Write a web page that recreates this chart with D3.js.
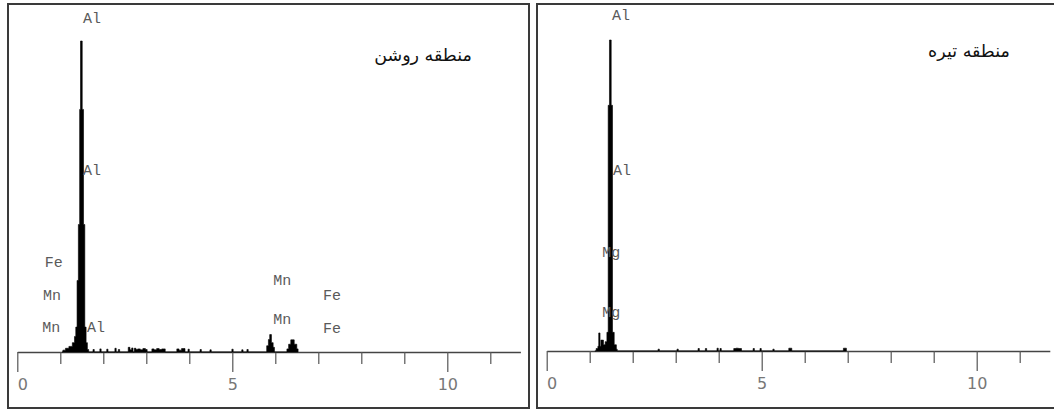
<!DOCTYPE html>
<html>
<head>
<meta charset="utf-8">
<script src="https://cdn.jsdelivr.net/npm/d3@7"></script>
<style>
    body { margin: 0; background: #fff; }
    svg { display: block; }
</style>
</head>
<body>
<svg id="chart" width="1054" height="410"></svg>
<script>
// 刻度
const tickValues = [0, 1, 2, 3, 4, 5, 6, 7, 8, 9, 10, 11];
const tickLabels = ["0", "5", "10"];

// 左图：منطقه روشن (能量 keV / 计数)
const brightEnergy = [
    1.04, 1.06, 1.12, 1.20, 1.28, 1.33, 1.36, 1.39, 1.42, 1.45, 1.47, 1.51, 1.54, 1.57, 1.60, 1.63, 1.66,
    1.76, 1.79, 1.92, 1.95, 2.08, 2.11, 2.27, 2.30, 2.35, 2.38,
    2.58, 2.62, 2.66, 2.69, 2.72, 2.76, 2.80, 2.86, 2.92, 2.98, 3.02,
    3.13, 3.18, 3.24, 3.30, 3.36, 3.44,
    3.71, 3.76, 3.82, 3.90, 3.97, 4.00, 4.25, 4.28, 4.48, 4.51,
    4.99, 5.02, 5.22, 5.25, 5.34, 5.37,
    5.78, 5.80, 5.84, 5.87, 5.91, 5.95, 5.98,
    6.25, 6.27, 6.31, 6.36, 6.44, 6.50, 6.53
];
const brightCounts = [
    0, 0.6, 1.2, 1.8, 3, 5, 8, 23, 41, 78, 100, 78, 41, 8, 3, 0.8, 0,
    0.8, 0, 1, 0, 0.9, 0, 1.2, 0, 0.8, 0,
    1.5, 0.7, 1.3, 0, 1.2, 0.8, 1.0, 0.7, 1.1, 0.8, 0,
    1.0, 0.7, 1.1, 0.8, 1.0, 0,
    1.0, 0.6, 1.1, 0, 0.9, 0, 0.8, 0, 0.7, 0,
    0.9, 0, 0.7, 0, 0.8, 0,
    0, 2, 4, 5.6, 3, 1.5, 0,
    0, 1, 2.5, 3.9, 2.5, 1, 0
];
const brightLabels = ["Al", "Al", "Fe", "Mn", "Mn", "Al", "Mn", "Mn", "Fe", "Fe"];
const brightLabelEnergy = [1.53, 1.53, 0.64, 0.60, 0.58, 1.62, 5.95, 5.95, 7.11, 7.11];
const brightLabelLevel = [107, 58, 28.6, 17.7, 7.4, 7.4, 22.8, 10, 17.7, 7.1];

// 右图：منطقه تیره
const darkEnergy = [
    1.12, 1.15, 1.19, 1.21, 1.24, 1.26, 1.32, 1.36, 1.40, 1.43, 1.46, 1.50, 1.53, 1.57, 1.62, 1.64,
    2.59, 2.62, 3.03, 3.06, 3.52, 3.55, 3.69, 3.72, 3.96, 3.99, 4.03, 4.06,
    4.35, 4.40, 4.46, 4.53, 4.80, 4.83, 4.96, 4.99, 5.26, 5.29, 5.63, 5.70, 6.90, 6.97
];
const darkCounts = [
    0, 0.8, 1.5, 5.8, 1.5, 3.5, 2, 3, 6, 79, 100, 79, 6, 2, 0.6, 0,
    0.6, 0, 0.6, 0, 0.8, 0, 0.8, 0, 0.9, 0, 0.8, 0,
    0.8, 0.9, 0.8, 0, 0.8, 0, 0.8, 0, 0.6, 0, 0.9, 0, 0.9, 0
];
const darkLabels = ["Al", "Al", "Mg", "Mg"];
const darkLabelEnergy = [1.52, 1.54, 1.29, 1.29];
const darkLabelLevel = [107.4, 57.6, 31.5, 12.2];

// 面板参数
const panels = [
    {
        title: "منطقه روشن",
        energy: brightEnergy, counts: brightCounts,
        labels: brightLabels, labelEnergy: brightLabelEnergy, labelLevel: brightLabelLevel,
        frame: { x: 8, y: 4, w: 521, h: 404 },
        x0: 17.3, base: 352, top: 41,
        titleX: 423, titleY: 55
    },
    {
        title: "منطقه تیره",
        energy: darkEnergy, counts: darkCounts,
        labels: darkLabels, labelEnergy: darkLabelEnergy, labelLevel: darkLabelLevel,
        frame: { x: 537, y: 4, w: 521, h: 404 },
        x0: 546.7, base: 351, top: 40,
        titleX: 969, titleY: 51
    }
];

const pxPerKev = 43;
const svg = d3.select("#chart");

panels.forEach(p => {
    const g = svg.append("g");

    // 边框
    g.append("rect")
        .attr("x", p.frame.x)
        .attr("y", p.frame.y)
        .attr("width", p.frame.w)
        .attr("height", p.frame.h)
        .attr("fill", "none")
        .attr("stroke", "#3a3a3a")
        .attr("stroke-width", 2);

    const x = d3.scaleLinear()
        .domain([0, 11.7])
        .range([p.x0, p.x0 + 11.7 * pxPerKev]);
    const y = d3.scaleLinear()
        .domain([0, 100])
        .range([p.base, p.top]);

    // 坐标轴
    const axis = g.append("g")
        .attr("transform", `translate(0,${p.base})`)
        .call(d3.axisBottom(x)
            .tickValues(tickValues)
            .tickSize(12)
            .tickSizeOuter(0)
            .tickFormat(d => tickLabels.includes(String(d)) ? String(d) : ""));
    axis.select(".domain")
        .attr("stroke", "#444")
        .attr("stroke-width", 1.3);
    axis.selectAll(".tick line")
        .attr("stroke", "#555")
        .attr("stroke-width", 1.2)
        .attr("y2", d => d % 5 === 0 ? 20 : 12);
    axis.selectAll(".tick text")
        .attr("y", 27)
        .attr("dx", d => d === 0 ? 5 : 0)
        .attr("fill", "#777")
        .style("font-family", "'DejaVu Sans', sans-serif")
        .style("font-size", "16px");

    // 能谱
    const spectrum = p.energy.map((e, i) => ({ e: e, c: p.counts[i] }));
    g.append("path")
        .datum(spectrum)
        .attr("fill", "#000")
        .attr("stroke", "#000")
        .attr("stroke-width", 0.6)
        .attr("d", d3.area()
            .curve(d3.curveStepAfter)
            .x(d => x(d.e))
            .y0(y(0))
            .y1(d => y(d.c)));

    // 元素标签
    g.selectAll(".elLabel")
        .data(p.labels)
        .enter()
        .append("text")
        .attr("class", "elLabel")
        .attr("x", (d, i) => x(p.labelEnergy[i]))
        .attr("y", (d, i) => y(p.labelLevel[i]))
        .attr("dominant-baseline", "central")
        .attr("fill", "#5a5a5a")
        .style("font-family", "'Liberation Mono', 'Courier New', monospace")
        .style("font-size", "15px")
        .text(d => d);

    // 标题
    g.append("text")
        .attr("x", p.titleX)
        .attr("y", p.titleY)
        .attr("text-anchor", "middle")
        .attr("dominant-baseline", "central")
        .attr("direction", "rtl")
        .attr("fill", "#111")
        .style("font-family", "'DejaVu Sans', serif")
        .style("font-size", "17.5px")
        .text(p.title);
});
</script>
</body>
</html>
